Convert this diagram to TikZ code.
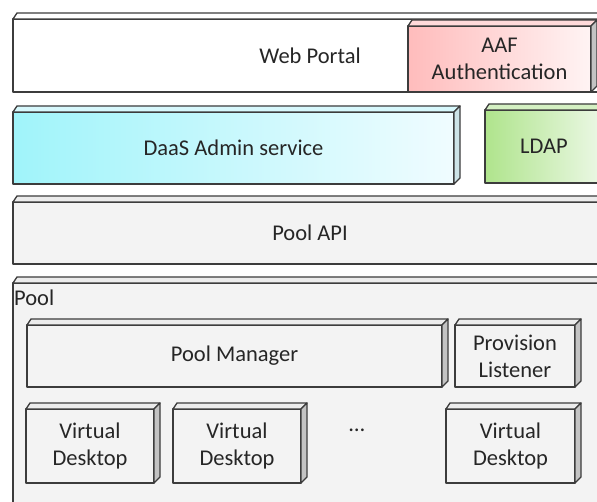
\documentclass[tikz,border=0pt]{standalone}
\usepackage{fontspec}
\setmainfont{Carlito}
\usetikzlibrary{calc}
\definecolor{edgeC}{RGB}{60,60,60}
\definecolor{grayF}{RGB}{243,243,243}
\definecolor{grayTop}{RGB}{236,236,236}
\definecolor{grayside}{RGB}{195,195,195}
\definecolor{aafS}{RGB}{255,188,188}
\definecolor{aafL}{RGB}{255,244,244}
\definecolor{aafTop}{RGB}{255,218,218}
\definecolor{cyanS}{RGB}{160,244,250}
\definecolor{cyanM}{RGB}{214,250,253}
\definecolor{cyanL}{RGB}{240,252,255}
\definecolor{cyanTop}{RGB}{215,248,252}
\definecolor{cyanSide}{RGB}{205,228,232}
\definecolor{greenS}{RGB}{175,228,140}
\definecolor{greenL}{RGB}{236,248,230}
\definecolor{greenTop}{RGB}{212,240,195}
\newcommand\fs{\fontsize{22.5}{27}\selectfont}
\newcommand\cubefaces[3]{%
  \filldraw[edgeline, fill=#2] (#1.north west) -- ([shift={(4,-6)}]#1.north west)
     -- ([shift={(6,-6)}]#1.north east) -- (#1.north east) -- cycle;
  \filldraw[edgeline, fill=#3] (#1.north east) -- ([shift={(6,-6)}]#1.north east)
     -- ([shift={(6,-6)}]#1.south east) -- (#1.south east) -- cycle;
}
\tikzset{
  edgeline/.style={draw=edgeC, line width=1.3pt, line join=round},
  face/.style={edgeline, outer sep=0pt, inner sep=0pt, anchor=north west,
    font=\fs, align=center, text=black!85},
}
\begin{document}
\begin{tikzpicture}[x=1pt,y=-1pt]
\fill[white] (0,0) rectangle (597,502);
\useasboundingbox (0,0) rectangle (597,502);
\clip (0,0) rectangle (597,502);

% Web Portal layer
\node[face, fill=white, minimum width=594, minimum height=73] (wp) at (13,19) {Web Portal};
\cubefaces{wp}{white}{grayside}
\node[face, left color=aafS, right color=aafL, minimum width=183, minimum height=66] (aaf) at (408,26) {AAF\\Authentication};
\cubefaces{aaf}{aafTop}{grayside}

% DaaS layer
\node[face, left color=cyanS, middle color=cyanM, right color=cyanL, minimum width=441, minimum height=72] (daas) at (13,112) {DaaS Admin service};
\cubefaces{daas}{cyanTop}{cyanSide}
\node[face, left color=greenS, right color=greenL, minimum width=118, minimum height=73] (ldap) at (485,110) {LDAP};
\cubefaces{ldap}{greenTop}{grayside}

% Pool API
\node[face, fill=grayF, minimum width=594, minimum height=62] (api) at (13,202) {Pool API};
\cubefaces{api}{grayTop}{grayside}

% Pool
\node[face, fill=grayF, minimum width=594, minimum height=240] (pool) at (13,283) {};
\cubefaces{pool}{grayTop}{grayside}
\node[anchor=base west, font=\fs, inner sep=0pt, text=black!85] (poollbl) at (14,306) {Pool};

\node[face, fill=grayF, minimum width=415, minimum height=62] (pm) at (27,325) {Pool Manager};
\cubefaces{pm}{grayTop}{grayside}
\node[face, fill=grayF, minimum width=120, minimum height=62] (pl) at (455,325) {Provision\\Listener};
\cubefaces{pl}{grayTop}{grayside}

\node[face, fill=grayF, minimum width=128, minimum height=74] (vd1) at (26,409) {Virtual\\Desktop};
\cubefaces{vd1}{grayTop}{grayside}
\node[face, fill=grayF, minimum width=128, minimum height=74] (vd2) at (173,409) {Virtual\\Desktop};
\cubefaces{vd2}{grayTop}{grayside}
\node[face, fill=grayF, minimum width=129, minimum height=74] (vd3) at (446,409) {Virtual\\Desktop};
\cubefaces{vd3}{grayTop}{grayside}

\node[font=\fs, inner sep=0pt, text=black!85] (dots) at (357,430) {…};
\end{tikzpicture}
\end{document}
